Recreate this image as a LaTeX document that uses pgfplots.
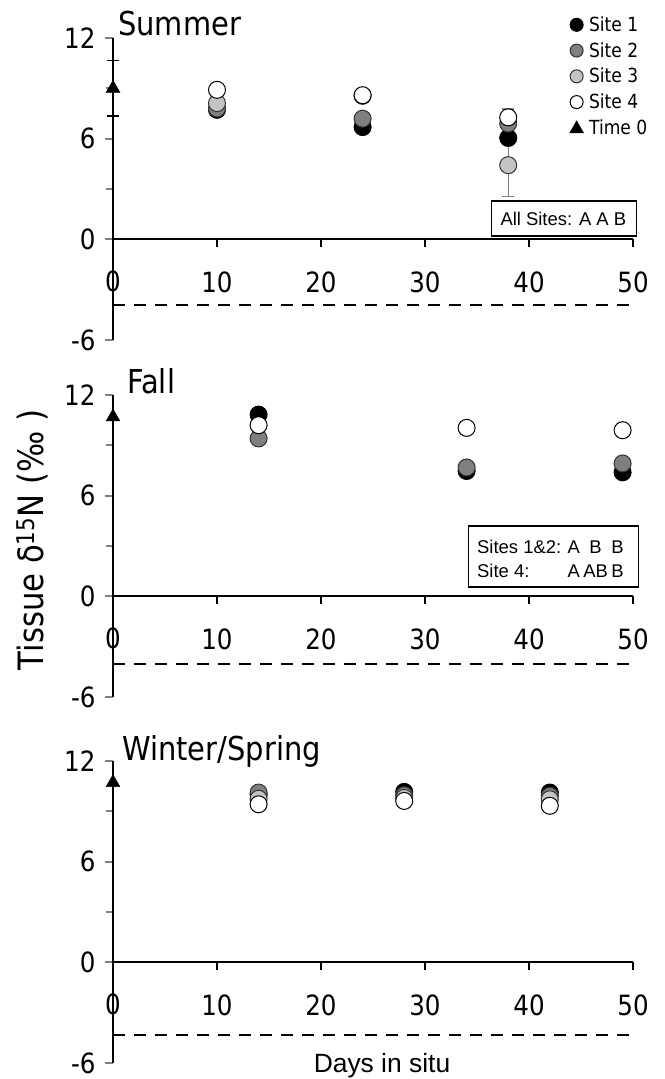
\documentclass[border=0pt]{standalone}
\usepackage{fontspec}
\setmainfont{DejaVu Sans}[FakeStretch=0.88]
\newfontfamily\arialf{Liberation Sans}
\usepackage{pgfplots}
\pgfplotsset{compat=1.18}
\definecolor{gtwo}{HTML}{7F7F7F}
\definecolor{gthree}{HTML}{C4C4C4}
\newcommand{\fs}[1]{\fontsize{#1}{#1}\selectfont}
\pgfplotsset{
  panel/.style={
    scale only axis, width=520bp, height=302bp,
    xmin=0, xmax=50, ymin=-6, ymax=12,
    axis x line=middle, axis y line=left,
    axis line style={-, line width=2bp, black},
    xtick={0,10,20,30,40,50}, ytick={-6,0,6,12}, minor ytick={3,9},
    tick align=outside, major tick length=8bp, minor tick length=7bp,
    major tick style={line width=2bp},
    minor tick style={line width=2bp},
    xtick style={draw=none},
    tick label style={font=\fs{28}},
    /pgf/number format/assume math mode=true,
    xticklabel style={yshift=-21bp},
    yticklabel style={xshift=-6bp},
    clip=false, anchor=south west,
  },
  lgimg/.style={legend image code/.code={\draw[##1, mark size=6.5bp] plot coordinates {(0bp,0bp)};}},
  lgtri/.style={legend image code/.code={\draw[##1, mark size=8bp] plot coordinates {(0bp,-1bp)};}},
  sone/.style={only marks, mark=*, mark size=8.5bp, mark options={draw=black, fill=black, line width=1bp}, lgimg},
  stwo/.style={only marks, mark=*, mark size=8.5bp, mark options={draw=black!80, fill=gtwo, line width=1bp}, lgimg},
  sthree/.style={only marks, mark=*, mark size=8.5bp, mark options={draw=black!80, fill=gthree, line width=1bp}, lgimg},
  sfour/.style={only marks, mark=*, mark size=8.5bp, mark options={draw=black, fill=white, line width=1bp}, lgimg},
  tzero/.style={only marks, mark=triangle*, mark size=8bp, mark options={draw=black, fill=black}, lgtri},
  ebar/.style={forget plot, only marks, mark=none, error bars/.cd, y dir=both, y explicit,
     error bar style={line width=1.3bp, #1},
     error mark options={rotate=90, mark size=6bp, line width=1.3bp, #1}},
  refline/.style={black, line width=2bp, dash pattern=on 12bp off 9bp, forget plot},
}
\newcommand{\xticksdown}{%
  \draw[line width=2bp] (axis cs:10,0) -- (axis cs:10,-0.48) (axis cs:20,0) -- (axis cs:20,-0.48)
    (axis cs:30,0) -- (axis cs:30,-0.48) (axis cs:40,0) -- (axis cs:40,-0.48)
    (axis cs:50,0) -- (axis cs:50,-0.48);
  \node[font=\fs{28}] at (axis cs:0,-2.5) {0};}
\begin{document}
\begin{tikzpicture}
\useasboundingbox (0,0) rectangle (665bp,1079bp);

% ---------------- Summer ----------------
\begin{axis}[panel, at={(113bp,739bp)},
  legend style={at={(0.8779,1.0745)}, anchor=north west, draw=none, fill=none,
    inner sep=0pt, row sep=7.5bp, nodes={inner sep=1bp, font=\fs{19.5}},
    /tikz/every odd column/.append style={column sep=4.5bp}},
  legend cell align=left]
\addplot[refline] coordinates {(0,-3.9) (50,-3.9)};
\addplot[ebar=black] coordinates {(0,9.0) +- (0,1.65)};
\addplot[ebar=gray] coordinates {(38,4.42) +- (0,1.85) (38,7.27) +- (0,0.5)};
\addplot[sone] coordinates {(10,7.72) (24,6.69) (38,6.04)};
\addplot[stwo] coordinates {(10,7.8) (24,7.19) (38,6.9)};
\addplot[sthree] coordinates {(10,8.12) (24,8.55) (38,4.42)};
\addplot[sfour] coordinates {(10,8.91) (24,8.59) (38,7.27)};
\addplot[tzero] coordinates {(0,9.0)};
\legend{Site 1, Site 2, Site 3, Site 4, Time 0}
\xticksdown
\node[anchor=base west, inner sep=0pt, font=\fs{33}] at (axis cs:0.48,12.15) {Summer};
\draw[line width=1.3bp] (axis cs:36.4,0.2) rectangle (axis cs:50.35,2.28);
\node[font=\arialf\fs{18.5}, inner sep=0pt] at (axis cs:43.3,1.24) {All Sites: A A B};
\end{axis}

% ---------------- Fall ----------------
\begin{axis}[panel, at={(113bp,382bp)}]
\addplot[refline] coordinates {(0,-4.05) (50,-4.05)};
\addplot[sone] coordinates {(14,10.83) (34,7.47) (49,7.39)};
\addplot[stwo] coordinates {(14,9.41) (34,7.68) (49,7.92)};
\addplot[sfour] coordinates {(14,10.2) (34,10.04) (49,9.9)};
\addplot[tzero] coordinates {(0,10.69)};
\xticksdown
\node[anchor=base west, inner sep=0pt, font=\fs{33}] at (axis cs:1.35,12.1) {Fall};
\draw[line width=1.3bp] (axis cs:34.15,0.55) rectangle (axis cs:50.53,4.2);
\begin{scope}[every node/.style={font=\arialf\fs{18.5}, inner sep=0pt, anchor=base}]
\node[anchor=base west] at (axis cs:35.0,2.57) {Sites 1\&2:};
\node at (axis cs:44.3,2.57) {A};
\node at (axis cs:46.4,2.57) {B};
\node at (axis cs:48.5,2.57) {B};
\node[anchor=base west] at (axis cs:35.0,1.15) {Site 4:};
\node at (axis cs:44.3,1.15) {A};
\node at (axis cs:46.4,1.15) {AB};
\node at (axis cs:48.5,1.15) {B};
\end{scope}
\end{axis}

% ---------------- Winter/Spring ----------------
\begin{axis}[panel, at={(113bp,16bp)}]
\addplot[refline] coordinates {(0,-4.35) (50,-4.35)};
\addplot[sone] coordinates {(14,10.0) (28,10.16) (42,10.12)};
\addplot[stwo] coordinates {(14,10.12) (28,9.96) (42,9.92)};
\addplot[sthree] coordinates {(14,9.75) (28,9.8) (42,9.72)};
\addplot[sfour] coordinates {(14,9.42) (28,9.62) (42,9.33)};
\addplot[tzero] coordinates {(0,10.71)};
\xticksdown
\node[anchor=base west, inner sep=0pt, font=\fs{33}] at (axis cs:0.87,12.05) {Winter/Spring};
\end{axis}

\node[rotate=90, font=\fs{35}, inner sep=0pt] at (32bp,539bp) {Tissue δ\textsuperscript{15}N (‰ )};
\node[anchor=base, font=\arialf\fs{26.5}, inner sep=0pt] at (382bp,7bp) {Days in situ};
\end{tikzpicture}
\end{document}
